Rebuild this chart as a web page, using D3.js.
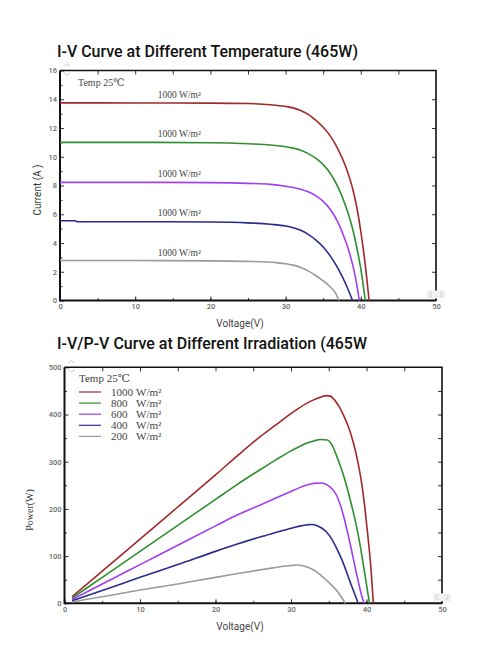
<!DOCTYPE html>
<html>
<head>
<meta charset="utf-8">
<script src="https://cdn.jsdelivr.net/npm/d3@7"></script>
<style>
  body { margin: 0; background: #fff; }
  svg { display: block; }
  .tick text { font-family: Roboto, sans-serif; font-size: 7.5px; font-weight: 500; fill: #6a6a6a; }
  .tick line { stroke: #333; stroke-width: 1; }
</style>
</head>
<body>
<div class="d3"></div>
<script>
// I-V curves, [voltage, current]
let ivRed = [[0,13.75],[10,13.74],[20,13.73],[25,13.7],[28,13.62],[30,13.5],[31,13.4],[32,13.22],[33,12.95],[34,12.55],[35,12.05],[36,11.4],[37,10.5],[38,9.3],[39,7.6],[39.5,6.4],[40,4.8],[40.5,2.9],[41.1,0]];
let ivGreen = [[0,11.0],[10,11.0],[20,10.97],[25,10.9],[28,10.82],[30,10.7],[31,10.6],[32,10.45],[33,10.22],[34,9.9],[35,9.45],[36,8.8],[37,7.85],[38,6.55],[39,4.8],[39.5,3.6],[40,2.2],[40.6,0]];
let ivPurple = [[0,8.22],[10,8.22],[20,8.2],[25,8.15],[28,8.08],[30,7.95],[31,7.86],[32,7.74],[33,7.56],[34,7.3],[35,6.9],[36,6.3],[37,5.4],[38,4.1],[38.5,3.3],[39,2.3],[39.4,1.3],[39.8,0]];
let ivBlue = [[0,5.55],[2,5.55],[2.3,5.48],[10,5.48],[20,5.46],[25,5.4],[28,5.3],[30,5.18],[31,5.06],[32,4.88],[33,4.6],[34,4.22],[35,3.72],[36,3.05],[37,2.2],[38,1.15],[38.9,0]];
let ivGray = [[0,2.78],[10,2.78],[20,2.76],[25,2.72],[28,2.66],[29,2.62],[30,2.56],[31,2.46],[32,2.3],[33,2.06],[34,1.74],[35,1.36],[36,0.92],[36.6,0.55],[37.1,0]];
let ivLabels = ['1000 W/m²', '1000 W/m²', '1000 W/m²', '1000 W/m²', '1000 W/m²'];

// P-V curves, [voltage, power]
let pvRed = [[1,14],[5,68],[10,136],[15,204],[20,272],[23,314],[26,354],[28,378],[30,402],[31,413],[32,423],[33,431],[34,437],[34.6,440],[35.2,439],[35.7,432],[36.4,416],[37,397],[37.7,370],[38.3,338],[38.9,296],[39.4,250],[39.8,200],[40.2,140],[40.6,72],[40.9,0]];
let pvGreen = [[1,11],[5,55],[10,110],[15,165],[20,220],[23,253],[26,284],[28,304],[30,323],[31,331],[32,339],[33,344],[34,347],[34.8,346],[35.4,336],[36,314],[36.6,288],[37.2,258],[37.8,222],[38.4,183],[38.9,145],[39.4,100],[39.9,50],[40.4,0]];
let pvPurple = [[1,8],[5,41],[10,82],[15,123],[20,164],[23,188],[26,209],[28,223],[30,237],[31,244],[32,250],[33,254],[34,255],[34.8,251],[35.4,243],[36,230],[36.5,210],[37,183],[37.5,150],[38,114],[38.5,76],[39,40],[39.4,14],[39.7,0]];
let pvBlue = [[1,5.5],[5,27],[10,55],[15,82],[20,110],[23,126],[26,141],[28,150],[30,159],[31,163],[32,166],[32.7,167],[33.4,165],[34,160],[34.7,151],[35.4,136],[36,118],[36.5,101],[37,82],[37.5,60],[38,38],[38.5,17],[38.9,0]];
let pvGray = [[1,2.8],[5,14],[10,28],[15,41],[20,55],[23,63],[26,71],[28,76],[29,78.5],[30,80],[30.7,81],[31.4,80],[32.2,76.5],[33,70.5],[33.6,64],[34.2,56],[35,44.5],[35.6,35],[36.1,26],[36.6,15],[37.2,0]];
let legendValues = ['1000', '800', '600', '400', '200'];
let legendUnit = 'W/m²';

let titles = ['I-V Curve at Different Temperature (465W)', 'I-V/P-V Curve at Different Irradiation (465W'];
let tempLabel = 'Temp 25℃';

let colors = ['#a0282c', '#2f8f2f', '#a040f0', '#2b2b8f', '#9a9a9a'];

let width = 480;
let height = 660;

let svg = d3
  .select('.d3')
  .append('svg')
  .attr('width', width)
  .attr('height', height);

let serif = '"Liberation Serif", "DejaVu Serif", serif';

function drawFrame(g, x, y, yMajor, yMinor, rightTicks) {
  let [x0, x1] = x.range();
  let [y0, y1] = y.range();

  // bottom axis
  g.append('g')
    .attr('transform', `translate(0,${y0})`)
    .call(d3.axisBottom(x).tickValues(d3.range(0, 51, 5)).tickSize(-2.5).tickFormat(''))
    .call(a => a.select('.domain').remove());
  g.append('g')
    .attr('transform', `translate(0,${y0})`)
    .call(d3.axisBottom(x).tickValues(d3.range(0, 51, 10)).tickSize(-4).tickPadding(3))
    .call(a => a.select('.domain').remove());

  // top ticks
  g.append('g')
    .attr('transform', `translate(0,${y1})`)
    .call(d3.axisTop(x).tickValues(d3.range(5, 50, 5)).tickSize(-4).tickFormat(''))
    .call(a => a.select('.domain').remove());

  // left axis
  g.append('g')
    .attr('transform', `translate(${x0},0)`)
    .call(d3.axisLeft(y).tickValues(yMinor).tickSize(-2.5).tickFormat(''))
    .call(a => a.select('.domain').remove());
  g.append('g')
    .attr('transform', `translate(${x0},0)`)
    .call(d3.axisLeft(y).tickValues(yMajor).tickSize(-4).tickPadding(3))
    .call(a => a.select('.domain').remove());

  // right ticks
  g.append('g')
    .attr('transform', `translate(${x1},0)`)
    .call(d3.axisRight(y).tickValues(rightTicks).tickSize(-4).tickFormat(''))
    .call(a => a.select('.domain').remove());

  g.append('path')
    .attr('d', `M${x0},${y1}H${x1}V${y0}`)
    .attr('fill', 'none')
    .attr('stroke', '#111')
    .attr('stroke-width', 1.6);
  g.append('path')
    .attr('d', `M${x0},${y1}V${y0}H${x1}`)
    .attr('fill', 'none')
    .attr('stroke', '#111')
    .attr('stroke-width', 2);

  // little scroll arrows left over from the screenshot
  g.append('path')
    .attr('d', `M${x0 + 4},${y1 - 4}l3,-3l3,3M${x0 + 4},${y1 + 2}l3,3l3,-3`)
    .attr('fill', 'none')
    .attr('stroke', '#c4c4c4')
    .attr('stroke-width', 1);
  g.append('rect')
    .attr('x', x1 - 9).attr('y', y0 - 10).attr('width', 18).attr('height', 8)
    .attr('fill', '#f1f1f1');
  g.append('path')
    .attr('d', `M${x1 - 4},${y0 - 8.5}l-2.5,2.5l2.5,2.5M${x1 + 4},${y0 - 8.5}l2.5,2.5l-2.5,2.5`)
    .attr('fill', 'none')
    .attr('stroke', '#c4c4c4')
    .attr('stroke-width', 1);
}

// ---------- top chart ----------
let topChart = svg.append('g');

topChart.append('text')
  .attr('x', 57)
  .attr('y', 56.5)
  .attr('textLength', 301)
  .attr('lengthAdjust', 'spacingAndGlyphs')
  .attr('font-family', 'Roboto, sans-serif')
  .attr('font-weight', 500)
  .attr('font-size', 17)
  .attr('fill', '#111')
  .text(titles[0]);

let xTop = d3.scaleLinear().domain([0, 50]).range([60, 436]);
let yTop = d3.scaleLinear().domain([0, 16]).range([300.5, 70.5]);

drawFrame(topChart, xTop, yTop, d3.range(0, 17, 2), d3.range(1, 16, 2), d3.range(2, 16, 2));

let ivLine = d3.line()
  .x(d => xTop(d[0]))
  .y(d => yTop(d[1]))
  .curve(d3.curveMonotoneX);

let ivData = [ivRed, ivGreen, ivPurple, ivBlue, ivGray];

topChart.selectAll('path.iv')
  .data(ivData)
  .enter()
  .append('path')
  .attr('class', 'iv')
  .attr('fill', 'none')
  .attr('stroke', (d, i) => colors[i])
  .attr('stroke-width', 1.6)
  .attr('d', ivLine);

topChart.selectAll('text.ivlabel')
  .data(ivData)
  .enter()
  .append('text')
  .attr('class', 'ivlabel')
  .attr('x', xTop(13))
  .attr('y', d => yTop(d[0][1]) - 5)
  .attr('font-family', serif)
  .attr('font-size', 9.5)
  .attr('fill', '#444')
  .text((d, i) => ivLabels[i]);

topChart.append('text')
  .attr('x', 78)
  .attr('y', 86)
  .attr('font-family', serif)
  .attr('font-size', 10)
  .attr('fill', '#444')
  .text(tempLabel);

topChart.append('text')
  .attr('transform', 'translate(41,190) rotate(-90)')
  .attr('text-anchor', 'middle')
  .attr('font-family', 'Roboto, sans-serif')
  .attr('font-size', 10)
  .attr('fill', '#333')
  .text('Current (A )');

topChart.append('text')
  .attr('x', 240)
  .attr('y', 327)
  .attr('text-anchor', 'middle')
  .attr('font-family', 'Roboto, sans-serif')
  .attr('font-size', 10)
  .attr('fill', '#444')
  .text('Voltage(V)');

// ---------- bottom chart ----------
let bottomChart = svg.append('g');

bottomChart.append('text')
  .attr('x', 57)
  .attr('y', 349)
  .attr('textLength', 310)
  .attr('lengthAdjust', 'spacingAndGlyphs')
  .attr('font-family', 'Roboto, sans-serif')
  .attr('font-weight', 500)
  .attr('font-size', 17)
  .attr('fill', '#111')
  .text(titles[1]);

let xBot = d3.scaleLinear().domain([0, 50]).range([64.5, 442]);
let yBot = d3.scaleLinear().domain([0, 500]).range([603.3, 367.3]);

drawFrame(bottomChart, xBot, yBot, d3.range(0, 501, 100), d3.range(50, 500, 100), d3.range(50, 500, 50));

let pvLine = d3.line()
  .x(d => xBot(d[0]))
  .y(d => yBot(d[1]))
  .curve(d3.curveMonotoneX);

let pvData = [pvRed, pvGreen, pvPurple, pvBlue, pvGray];

bottomChart.selectAll('path.pv')
  .data(pvData)
  .enter()
  .append('path')
  .attr('class', 'pv')
  .attr('fill', 'none')
  .attr('stroke', (d, i) => colors[i])
  .attr('stroke-width', 1.6)
  .attr('d', pvLine);

bottomChart.append('text')
  .attr('x', 79)
  .attr('y', 382)
  .attr('font-family', serif)
  .attr('font-size', 11)
  .attr('fill', '#444')
  .text(tempLabel);

let legend = bottomChart.selectAll('g.legend')
  .data(legendValues)
  .enter()
  .append('g')
  .attr('class', 'legend')
  .attr('transform', (d, i) => `translate(0,${392 + i * 11.1})`);

legend.append('line')
  .attr('x1', 79)
  .attr('x2', 101)
  .attr('stroke', (d, i) => colors[i])
  .attr('stroke-width', 1.2);

legend.append('text')
  .attr('x', 111)
  .attr('y', 3.5)
  .attr('font-family', serif)
  .attr('font-size', 11)
  .attr('fill', '#444')
  .text(d => d);

legend.append('text')
  .attr('x', 136)
  .attr('y', 3.5)
  .attr('font-family', serif)
  .attr('font-size', 11)
  .attr('fill', '#444')
  .text(legendUnit);

bottomChart.append('text')
  .attr('transform', 'translate(33,510) rotate(-90)')
  .attr('text-anchor', 'middle')
  .attr('font-family', serif)
  .attr('font-size', 10)
  .attr('fill', '#333')
  .text('Power(W)');

bottomChart.append('text')
  .attr('x', 240)
  .attr('y', 630)
  .attr('text-anchor', 'middle')
  .attr('font-family', 'Roboto, sans-serif')
  .attr('font-size', 10)
  .attr('fill', '#444')
  .text('Voltage(V)');
</script>
</body>
</html>
